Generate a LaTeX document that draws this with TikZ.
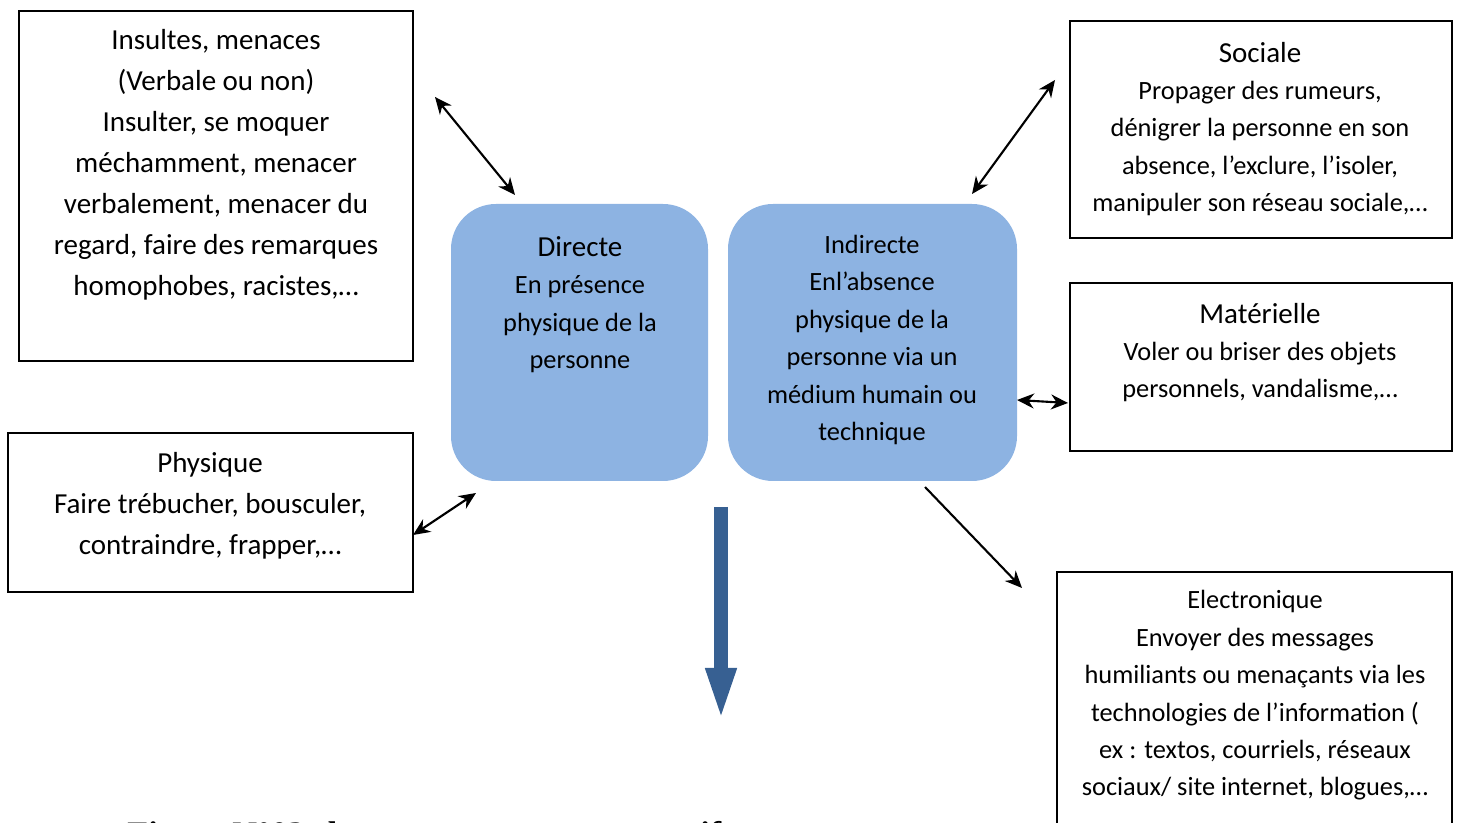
\documentclass[tikz,border=0pt]{standalone}
\usepackage{fontspec}
\setmainfont{Carlito}
\newfontfamily\capfont{Liberation Serif}
\usetikzlibrary{arrows.meta}
\definecolor{boxblue}{HTML}{8DB3E2}
\definecolor{arrowblue}{HTML}{376092}

\begin{document}
\begin{tikzpicture}[
    every node/.style={inner sep=0pt},
    frame/.style={rectangle, draw=black, line width=1.1pt},
    pill/.style={rectangle, rounded corners=0.9cm, fill=boxblue},
    txt/.style={align=center, font=\fontsize{15}{21.3}\selectfont},
    txtbig/.style={align=center, font=\fontsize{16.5}{23.3}\selectfont},
    dbl/.style={{Stealth[length=0.34cm, width=0.3cm]}-{Stealth[length=0.34cm, width=0.3cm]},
                line width=1.2pt},
    one/.style={-{Stealth[length=0.34cm, width=0.3cm]}, line width=1.2pt},
    blockarr/.style={-{Triangle[length=1.1cm, width=0.54cm]}, line width=0.28cm,
                     color=arrowblue},
]
\useasboundingbox (0,0) rectangle (29.22,16.46);
\clip (0,0) rectangle (29.22,16.46);

% ================================================== left: direct forms
\node[frame, minimum width=7.88cm, minimum height=7.0cm] (insbox) at (4.32,12.74) {};
\node[txtbig] (instxt) at (4.32,13.16)
     {Insultes, menaces\\ (Verbale ou non)\\ Insulter, se moquer\\
      méchamment, menacer\\ verbalement, menacer du\\
      regard, faire des remarques\\ homophobes, racistes,…};

\node[frame, minimum width=8.10cm, minimum height=3.18cm] (phybox) at (4.21,6.21) {};
\node[txtbig] (phytxt) at (4.20,6.34)
     {Physique\\ Faire trébucher, bousculer,\\ contraindre, frapper,…};

% ================================================== centre: the two modes
\node[pill, minimum width=5.14cm, minimum height=5.54cm] (directe) at (11.59,9.61) {};
\node[txt] (dirtxt) at (11.60,10.37)
     {{\fontsize{16.5}{21.3}\selectfont Directe}\\ En présence\\ physique de la\\ personne};

\node[pill, minimum width=5.78cm, minimum height=5.54cm] (indirecte) at (17.45,9.61) {};
\node[txt] (indtxt) at (17.44,9.66)
     {Indirecte\\ Enl’absence\\ physique de la\\ personne via un\\
      médium humain ou\\ technique};

% ================================================== right: indirect forms
\node[frame, minimum width=7.64cm, minimum height=4.34cm] (socbox) at (25.22,13.87) {};
\node[txt] (soctxt) at (25.20,13.88)
     {{\fontsize{16.5}{21.3}\selectfont Sociale}\\ Propager des rumeurs,\\
      dénigrer la personne en son\\ absence, l’exclure, l’isoler,\\
      manipuler son réseau sociale,…};

\node[frame, minimum width=7.64cm, minimum height=3.36cm] (matbox) at (25.22,9.12) {};
\node[txt] (mattxt) at (25.20,9.41)
     {{\fontsize{16.5}{21.3}\selectfont Matérielle}\\ Voler ou briser des objets\\
      personnels, vandalisme,…};

\node[frame, minimum width=7.90cm, minimum height=5.52cm] (elebox) at (25.09,2.26) {};
\node[txt] (eletxt) at (25.10,2.55)
     {Electronique\\ Envoyer des messages\\ humiliants ou menaçants via les\\
      technologies de l’information (\\ ex : textos, courriels, réseaux\\
      sociaux/ site internet, blogues,…};

% ================================================== connectors
\coordinate (a1s) at (8.70,14.52);  \coordinate (a1e) at (10.30,12.56);
\coordinate (a2s) at (21.10,14.86); \coordinate (a2e) at (19.44,12.58);
\coordinate (a3s) at (8.26,5.76);   \coordinate (a3e) at (9.52,6.60);
\coordinate (a4s) at (20.34,8.46);  \coordinate (a4e) at (21.36,8.40);
\coordinate (a5s) at (18.50,6.72);  \coordinate (a5e) at (20.44,4.70);
\draw[dbl] (a1s) -- (a1e);
\draw[dbl] (a2s) -- (a2e);
\draw[dbl] (a3s) -- (a3e);
\draw[dbl] (a4s) -- (a4e);
\draw[one] (a5s) -- (a5e);

% the big arrow down to the caption
\coordinate (downtop) at (14.42,6.32);
\coordinate (downtip) at (14.42,2.0);
\draw[blockarr] (downtop) -- (downtip);

\node[anchor=base west, font={\capfont\bfseries\fontsize{19.5}{23}\selectfont}]
     (caption) at (2.54,-0.46) {Figure N°02: les comportements agressifs};

\end{tikzpicture}
\end{document}
